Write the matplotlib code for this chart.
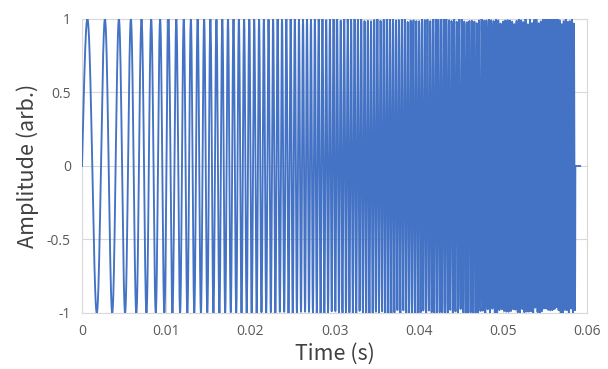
import numpy as np
import matplotlib.pyplot as plt

# Sweep parameters (linear chirp)
f_start = 370.0        # Hz, from the spacing of the first cycles
f_end = 4200.0         # Hz, at the end of the sweep
duration = 0.0586      # s, where the sweep stops
tail = 0.0006          # s of silence after the sweep (short flat bit at 0)
sample_rate = 44100.0  # Hz

x_ticks = [0, 0.01, 0.02, 0.03, 0.04, 0.05, 0.06]
x_tick_labels = ["0", "0.01", "0.02", "0.03", "0.04", "0.05", "0.06"]
y_ticks = [-1, -0.5, 0, 0.5, 1]
y_tick_labels = ["-1", "-0.5", "0", "0.5", "1"]

t = np.arange(0, duration + tail, 1.0 / sample_rate)
k = (f_end - f_start) / duration
amp = np.sin(2 * np.pi * (f_start * t + 0.5 * k * t ** 2))
amp[t > duration] = 0.0

fig = plt.figure(figsize=(6.08, 3.69), dpi=100)
ax = fig.add_axes([82 / 608, 1 - 313 / 369, 505 / 608, 294 / 369])

ax.plot(t, amp, color="#4472C4", lw=1.35, zorder=3)

ax.set_xlim(0, 0.06)
ax.set_ylim(-1, 1)
ax.set_xticks(x_ticks)
ax.set_xticklabels(x_tick_labels)
ax.set_yticks(y_ticks)
ax.set_yticklabels(y_tick_labels)
ax.grid(True, color="#d9d9d9", lw=0.8, zorder=0)
ax.tick_params(length=0, labelsize=10, labelcolor="#595959", pad=8)
for lab in ax.get_xticklabels() + ax.get_yticklabels():
    lab.set_family("Open Sans")
for sp in ax.spines.values():
    sp.set_color("#d9d9d9")
    sp.set_linewidth(0.8)

ax.set_xlabel("Time (s)", fontsize=15.5, family=["Noto Sans CJK JP", "DejaVu Sans"],
              color="#404040", labelpad=3)
ax.set_ylabel("Amplitude (arb.)", fontsize=15.5, family=["Noto Sans CJK JP", "DejaVu Sans"],
              color="#404040", labelpad=6)

fig.savefig("out.png", dpi=100)
